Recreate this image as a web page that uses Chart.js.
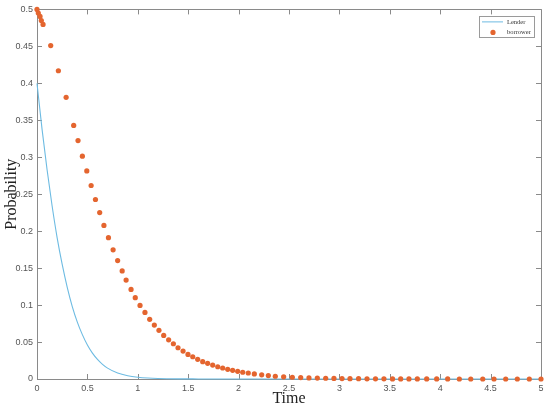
<!DOCTYPE html>
<html>
<head>
<meta charset="utf-8">
<script src="https://cdn.jsdelivr.net/npm/chart.js@4/dist/chart.umd.min.js"></script>
<style>
  html, body { margin: 0; padding: 0; background: #fff; }
  #wrap { width: 550px; height: 410px; }
</style>
</head>
<body>
<div id="wrap"><canvas id="c" width="550" height="410"></canvas></div>
<script>
// ---- data ----
const seriesNames = ['Lender', 'borrower'];
const lenderTime = [0, 0.05, 0.10, 0.15, 0.20, 0.25, 0.30, 0.35, 0.40, 0.45, 0.50, 0.55, 0.60, 0.65, 0.70, 0.80, 0.90, 1.00, 1.10, 1.20, 1.40, 1.60, 2.00, 3.00, 4.00, 5.00];
const lenderProb = [0.400, 0.338, 0.283, 0.234, 0.191, 0.155, 0.124, 0.098, 0.077, 0.060, 0.046, 0.035, 0.0265, 0.0198, 0.0147, 0.0080, 0.0044, 0.0024, 0.0013, 0.0007, 0.0002, 0.0001, 0.00002, 0, 0, 0];
const borrowerTime = [0, 0.013, 0.030, 0.043, 0.060, 0.136, 0.212, 0.289, 0.364, 0.407, 0.450, 0.494, 0.537, 0.580, 0.622, 0.664, 0.709, 0.755, 0.800, 0.845, 0.884, 0.933, 0.975, 1.022, 1.071, 1.118, 1.164, 1.210, 1.257, 1.306, 1.353, 1.399, 1.449, 1.498, 1.545, 1.594, 1.644, 1.693, 1.743, 1.793, 1.842, 1.892, 1.941, 1.991, 2.041, 2.096, 2.156, 2.229, 2.295, 2.364, 2.447, 2.533, 2.616, 2.698, 2.781, 2.864, 2.946, 3.026, 3.105, 3.190, 3.274, 3.358, 3.442, 3.527, 3.608, 3.690, 3.773, 3.866, 3.965, 4.074, 4.190, 4.303, 4.422, 4.534, 4.650, 4.765, 4.884, 5.000];
const borrowerProb = [0.500, 0.495, 0.4905, 0.485, 0.4797, 0.451, 0.417, 0.381, 0.343, 0.3225, 0.3015, 0.2815, 0.2618, 0.2428, 0.2252, 0.2078, 0.1912, 0.1748, 0.1602, 0.1462, 0.1338, 0.1212, 0.1100, 0.0996, 0.0900, 0.0807, 0.0730, 0.0658, 0.0590, 0.0530, 0.0477, 0.0423, 0.0378, 0.0333, 0.0301, 0.0266, 0.0234, 0.0212, 0.0189, 0.0166, 0.0149, 0.0131, 0.0118, 0.0104, 0.0091, 0.0081, 0.0068, 0.0056, 0.0046, 0.0037, 0.0030, 0.0024, 0.0019, 0.0015, 0.0012, 0.0010, 0.0008, 0.0006, 0.0005, 0.0004, 0.0003, 0.00025, 0.0002, 0.00016, 0.00013, 0.0001, 0.00008, 0.00006, 0.00005, 0.00004, 0.00003, 0.00002, 0.00002, 0.00001, 0.00001, 0.00001, 0.00001, 0.00001];
const xTicks = [0, 0.5, 1, 1.5, 2, 2.5, 3, 3.5, 4, 4.5, 5];
const yTicks = [0, 0.05, 0.1, 0.15, 0.2, 0.25, 0.3, 0.35, 0.4, 0.45, 0.5];
const xTitle = 'Time';
const yTitle = 'Probability';

const lenderColor = '#6dbbe2';
const borrowerColor = '#e4652f';
const axisColor = '#8a8a8a';
const labelColor = '#555555';

const lenderData = lenderTime.map((t, i) => ({ x: t, y: lenderProb[i] }));
const borrowerData = borrowerTime.map((t, i) => ({ x: t, y: borrowerProb[i] }));

// box + inward ticks, drawn beneath datasets
const boxPlugin = {
  id: 'box',
  beforeDatasetsDraw(chart) {
    const { ctx, chartArea: a, scales: { x, y } } = chart;
    ctx.save();
    ctx.strokeStyle = axisColor;
    ctx.lineWidth = 1;
    ctx.beginPath();
    ctx.rect(Math.round(a.left) + 0.5, Math.round(a.top) + 0.5, Math.round(a.right - a.left), Math.round(a.bottom - a.top));
    ctx.stroke();
    const tl = 5;
    ctx.beginPath();
    xTicks.forEach(v => {
      const px = Math.round(x.getPixelForValue(v)) + 0.5;
      ctx.moveTo(px, a.bottom); ctx.lineTo(px, a.bottom - tl);
      ctx.moveTo(px, a.top); ctx.lineTo(px, a.top + tl);
    });
    yTicks.forEach(v => {
      const py = Math.round(y.getPixelForValue(v)) + 0.5;
      ctx.moveTo(a.left, py); ctx.lineTo(a.left + tl, py);
      ctx.moveTo(a.right, py); ctx.lineTo(a.right - tl, py);
    });
    ctx.stroke();
    ctx.restore();
  },
  afterDraw(chart) {
    // legend box in top-right corner
    const { ctx, chartArea: a } = chart;
    const bx = a.right - 62, by = a.top + 7, bw = 55, bh = 21;
    ctx.save();
    ctx.fillStyle = '#ffffff';
    ctx.fillRect(bx, by, bw, bh);
    ctx.strokeStyle = '#9a9a9a';
    ctx.lineWidth = 1;
    ctx.strokeRect(Math.round(bx) + 0.5, Math.round(by) + 0.5, bw, bh);
    // Lender entry
    ctx.strokeStyle = lenderColor;
    ctx.beginPath();
    ctx.moveTo(bx + 3, by + 5.5); ctx.lineTo(bx + 24, by + 5.5);
    ctx.stroke();
    // borrower entry
    ctx.fillStyle = borrowerColor;
    ctx.beginPath();
    ctx.arc(bx + 14, by + 16, 2.6, 0, Math.PI * 2);
    ctx.fill();
    ctx.fillStyle = '#333333';
    ctx.font = '6.5px "Liberation Serif", "Times New Roman", serif';
    ctx.textBaseline = 'middle';
    ctx.textAlign = 'left';
    ctx.fillText(chart.data.datasets[0].label, bx + 28, by + 5.5);
    ctx.fillText(chart.data.datasets[1].label, bx + 28, by + 16);
    ctx.restore();
  }
};

new Chart(document.getElementById('c'), {
  type: 'scatter',
  data: {
    datasets: [
      {
        label: seriesNames[0],
        data: lenderData,
        showLine: true,
        borderColor: lenderColor,
        backgroundColor: lenderColor,
        borderWidth: 1.1,
        pointRadius: 0,
        cubicInterpolationMode: 'monotone',
        clip: false,
        order: 2
      },
      {
        label: seriesNames[1],
        data: borrowerData,
        showLine: false,
        borderColor: borrowerColor,
        backgroundColor: borrowerColor,
        pointRadius: 2.6,
        pointBorderWidth: 0,
        clip: false,
        order: 1
      }
    ]
  },
  plugins: [boxPlugin],
  options: {
    responsive: false,
    animation: false,
    devicePixelRatio: 1,
    layout: { padding: { top: 9, right: 9, left: 0, bottom: 0 } },
    plugins: { legend: { display: false }, tooltip: { enabled: false } },
    scales: {
      x: {
        type: 'linear',
        min: 0, max: 5,
        afterBuildTicks: s => { s.ticks = xTicks.map(v => ({ value: v })); },
        afterFit: s => { s.height = 31; },
        grid: { display: false, drawTicks: false },
        border: { display: false },
        ticks: {
          padding: 4,
          color: labelColor,
          font: { family: '"Liberation Sans", Arial, Helvetica, sans-serif', size: 9 },
          maxRotation: 0,
          callback: v => String(v)
        },
        title: {
          display: true,
          text: xTitle,
          color: '#222222',
          font: { family: '"Liberation Serif", "Times New Roman", serif', size: 16 },
          padding: { top: 0, bottom: 2 }
        }
      },
      y: {
        type: 'linear',
        min: 0, max: 0.5,
        afterBuildTicks: s => { s.ticks = yTicks.map(v => ({ value: v })); },
        afterFit: s => { s.width = 37; },
        grid: { display: false, drawTicks: false },
        border: { display: false },
        ticks: {
          padding: 4,
          color: labelColor,
          font: { family: '"Liberation Sans", Arial, Helvetica, sans-serif', size: 9 },
          callback: v => String(Math.round(v * 100) / 100)
        },
        title: {
          display: true,
          text: yTitle,
          color: '#222222',
          font: { family: '"Liberation Serif", "Times New Roman", serif', size: 16 },
          padding: { top: 2, bottom: 0 }
        }
      }
    }
  }
});
</script>
</body>
</html>
